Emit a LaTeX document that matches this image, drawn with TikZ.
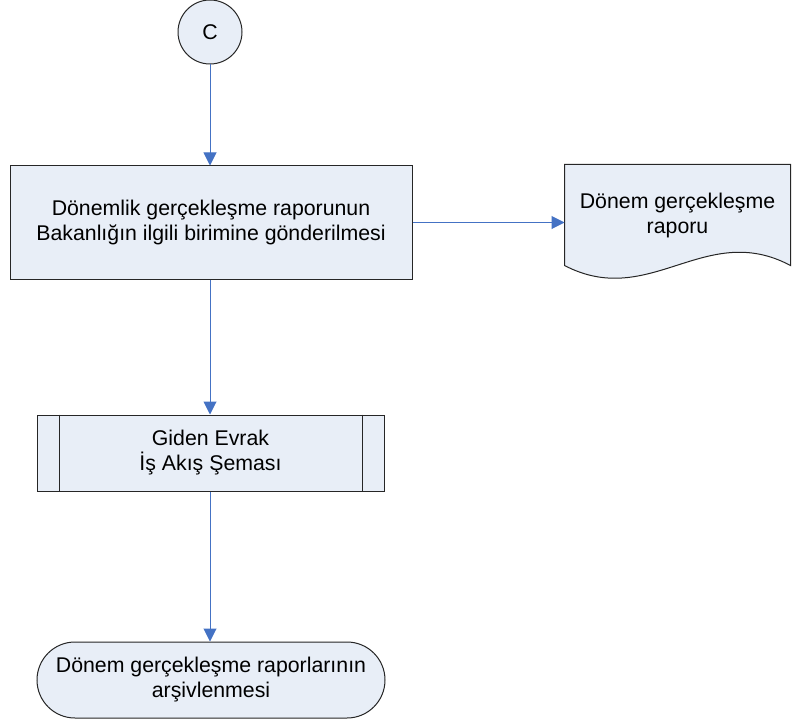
\documentclass[tikz,border=0pt]{standalone}
\usepackage{fontspec}
\setmainfont{Liberation Sans}
\usepackage{tikz}
\usetikzlibrary{%
  arrows.meta,%
  calc,%
  shapes.misc%
}
\definecolor{kutu}{RGB}{232,238,247}
\definecolor{ok}{RGB}{68,114,196}
\tikzset{>={Triangle[length=13pt,width=13pt]},
  blok/.style={draw=black!85, line width=1pt, fill=kutu, align=center,
    inner sep=0pt, font=\fontsize{21.3}{25}\selectfont},
  baglanti/.style={blok, circle, minimum size=64pt},
  islem/.style={blok, rectangle, minimum width=402pt, minimum height=113pt},
  altislem/.style={blok, rectangle, minimum width=347pt, minimum height=76pt},
  bitis/.style={blok, rounded rectangle, minimum width=348pt, minimum height=76pt},
  belge/.style={blok, draw=none, fill=none, minimum width=225pt, minimum height=100pt},
  akis/.style={->, draw=ok, line width=1pt, shorten >=0pt}}

\begin{document}
\begin{tikzpicture}[x=1pt,y=-1pt]
    \useasboundingbox (0,0) rectangle (797,722);
    \node[baglanti] (c) at (210,32) {C};
    \node[islem] (gonder) at (211,222.5)
    {Dönemlik gerçekleşme raporunun\\Bakanlığın ilgili birimine gönderilmesi};
    \node[altislem] (giden) at (210.5,453) {Giden Evrak\\İş Akış Şeması};
    \draw[black!85, line width=1pt] ([xshift=23pt]giden.north west) -- ([xshift=23pt]giden.south west);
    \draw[black!85, line width=1pt] ([xshift=-22pt]giden.north east) -- ([xshift=-22pt]giden.south east);
    \node[bitis] (arsiv) at (211,680) {Dönem gerçekleşme raporlarının\\arşivlenmesi};
    % belge
    \node[belge] (rapor) at (677.5,215) {};
    \draw[black!85, line width=1pt, fill=kutu] (rapor.south west) -- (rapor.north west) --
    (rapor.north east) -- (rapor.south east) .. controls (705,220) and (650,310) ..
    (rapor.south west) -- cycle;
    \node[belge] at (rapor) {Dönem gerçekleşme\\raporu};
    % oklar
    \draw[akis] (c) -- (gonder.north -| c);
    \draw[akis] (gonder.east) -- (gonder.east -| rapor.west);
    \draw[akis] (gonder.south -| c) -- (giden.north -| c);
    \draw[akis] (giden.south -| c) -- (arsiv.north -| c);
  \end{tikzpicture}
\end{document}
